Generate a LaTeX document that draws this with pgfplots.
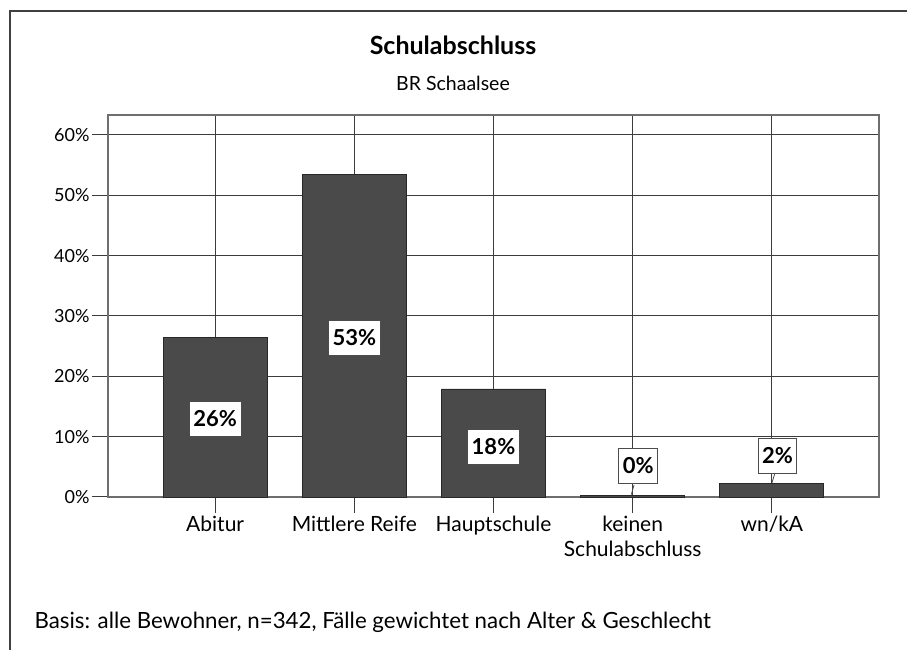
\documentclass[border=0pt]{standalone}
\usepackage{fontspec}
\setmainfont{Lato}
\usepackage{pgfplots}
\pgfplotsset{compat=1.18}
\definecolor{barfill}{RGB}{74,74,74}
\definecolor{baredge}{RGB}{40,40,40}
\definecolor{gridc}{RGB}{60,60,60}
\definecolor{framec}{RGB}{110,110,110}
\begin{document}
\begin{tikzpicture}[x=1pt,y=1pt]
\useasboundingbox (0,0) rectangle (907,650);
\draw[line width=1.5pt, black!75] (10,0) -- (10,639) -- (907,639);
\node[font=\fontsize{25}{29}\selectfont\bfseries] at (453,605) {Schulabschluss};
\node[font=\fontsize{19.5}{24}\selectfont] at (453,567) {BR Schaalsee};
\node[anchor=west, font=\fontsize{22.3}{26}\selectfont] at (31,28) {Basis: alle Bewohner, n=342, Fälle gewichtet nach Alter \& Geschlecht};
\begin{axis}[
  at={(108pt,153pt)}, anchor=south west,
  scale only axis, width=771pt, height=382pt,
  xmin=-0.77, xmax=4.77, ymin=0, ymax=63.3,
  xtick={0,1,2,3,4},
  xticklabels={Abitur, Mittlere Reife, Hauptschule, {keinen\\Schulabschluss}, wn/kA},
  xticklabel style={align=center, font=\fontsize{21}{25}\selectfont, yshift=0pt},
  ytick={0,10,20,30,40,50,60},
  yticklabel={\pgfmathprintnumber{\tick}\%},
  yticklabel style={font=\fontsize{18}{20}\selectfont, xshift=1pt},
  /pgf/number format/assume math mode=true,
  tick align=outside, major tick length=16pt,
  xtick pos=bottom, ytick pos=left,
  tick style={gridc, line width=1pt},
  xmajorgrids, ymajorgrids,
  major grid style={gridc, line width=1pt},
  axis line style={framec, line width=1.5pt},
  clip=false,
]
\addplot[ybar, bar width=104pt, fill=barfill, draw=baredge, line width=0.8pt] coordinates {
  (0,26.5) (1,53.4) (2,17.9) (3,0.3) (4,2.2)
};
\addplot[black!70, line width=0.8pt, no marks] coordinates {(3.01,2.0) (2.99,0.4)};
\addplot[black!70, line width=0.8pt, no marks] coordinates {(4.02,3.8) (4.0,2.3)};
\addplot[only marks, mark=none, point meta=explicit symbolic,
  nodes near coords,
  nodes near coords style={anchor=center, fill=white, draw=black!70, line width=0.8pt,
    font=\fontsize{22}{24}\selectfont\bfseries, text height=15pt, text depth=0pt,
    inner xsep=4pt, inner ysep=10pt}]
coordinates {
  (0,12.9) [26\%]
  (1,26.3) [53\%]
  (2,8.3) [18\%]
  (3.04,5.1) [0\%]
  (4.04,6.8) [2\%]
};
\end{axis}
\end{tikzpicture}
\end{document}
